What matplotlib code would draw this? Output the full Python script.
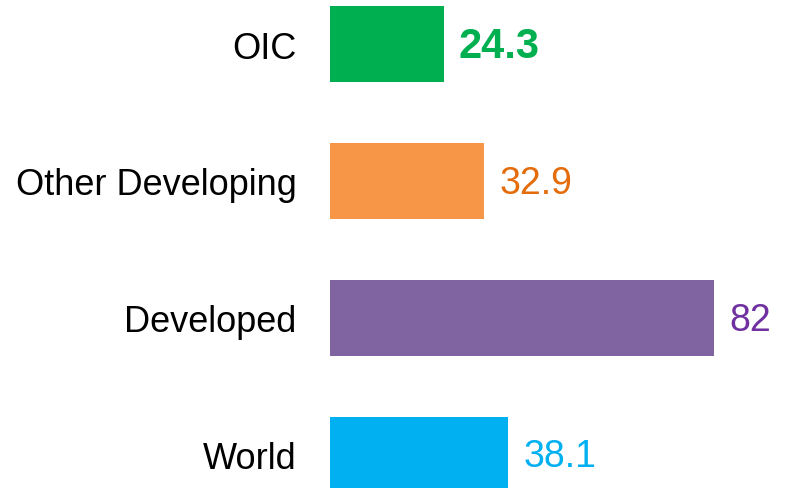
"""Horizontal bar chart: OIC vs other groups."""

import matplotlib
matplotlib.use("Agg")
import matplotlib.pyplot as plt

CATEGORIES = ["World", "Developed", "Other Developing", "OIC"]
VALUES = [38.1, 82, 32.9, 24.3]
VALUE_LABELS = ["38.1", "82", "32.9", "24.3"]
BAR_COLORS = ["#00B0F0", "#8064A2", "#F79646", "#00B050"]
TEXT_COLORS = ["#00B0F0", "#7030A0", "#E46C0A", "#00B050"]


def main() -> None:
    plt.rcParams["font.family"] = ["Liberation Sans", "DejaVu Sans"]

    fig = plt.figure(figsize=(7.87, 4.89), dpi=100)
    ax = fig.add_axes([330 / 787, 0, 1 - 330 / 787, 1])

    ypos = list(range(len(CATEGORIES)))
    ax.barh(ypos, VALUES, height=0.555, color=BAR_COLORS)
    ax.set_xlim(0, (787 - 330) / 4.683)
    ax.set_ylim(-0.245, 3.33)

    ax.set_yticks(ypos)
    ax.set_yticklabels(CATEGORIES, fontsize=26)
    ax.tick_params(axis="y", length=0, pad=24)
    ax.set_xticks([])
    for spine in ax.spines.values():
        spine.set_visible(False)

    for y, v, lab, c in zip(ypos, VALUES, VALUE_LABELS, TEXT_COLORS):
        bold = lab == "24.3"
        ax.annotate(
            lab,
            (v, y),
            xytext=(15, -2),
            textcoords="offset pixels",
            va="center",
            ha="left",
            color=c,
            fontsize=30 if bold else 27,
            fontweight="bold" if bold else "normal",
        )

    fig.savefig("out.png", dpi=100)
    plt.close(fig)


if __name__ == "__main__":
    main()
